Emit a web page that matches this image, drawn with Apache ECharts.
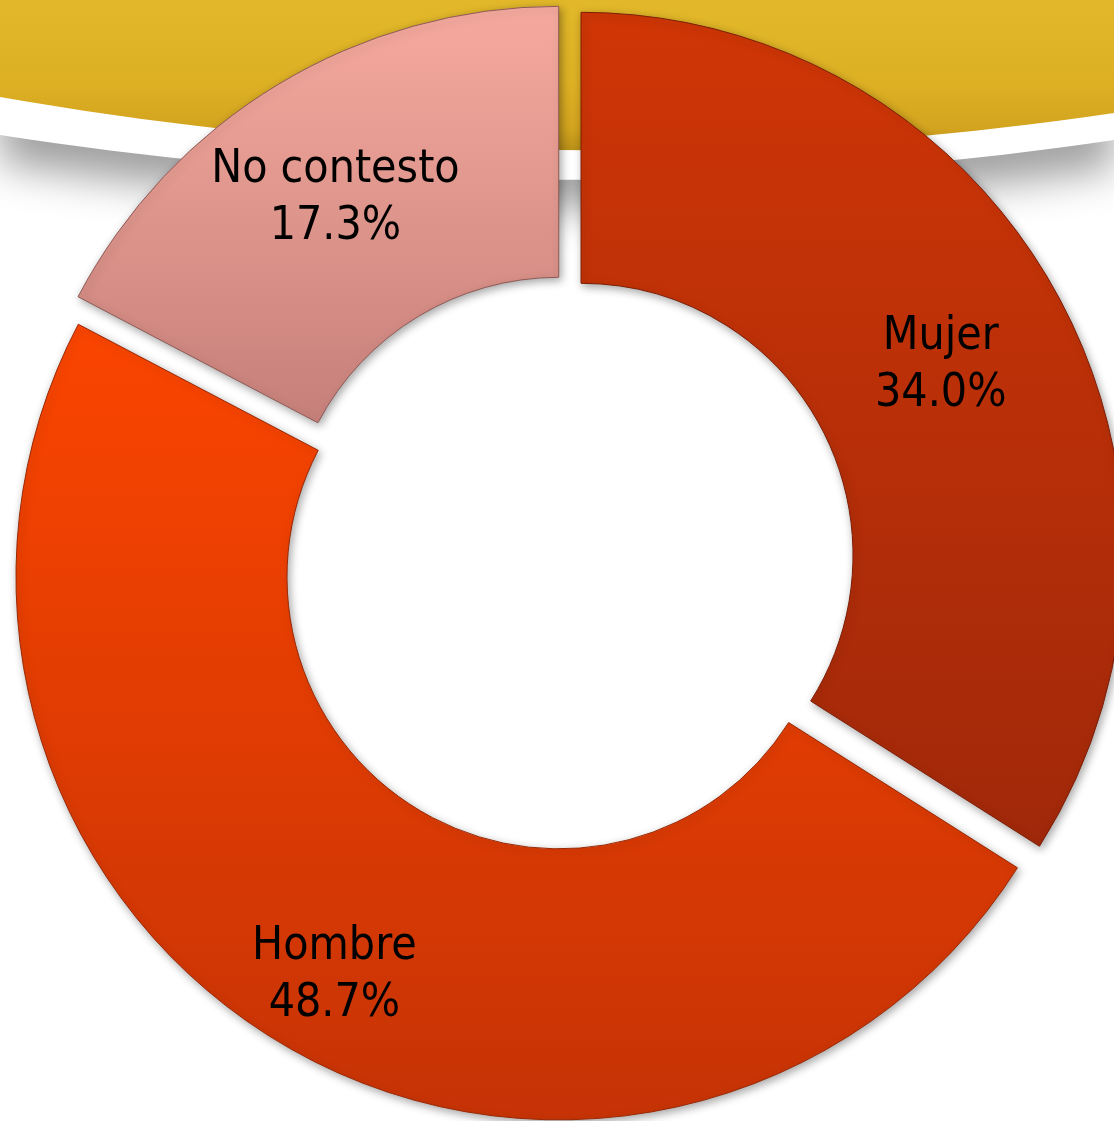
<!DOCTYPE html>
<html>
<head>
<meta charset="utf-8">
<script src="https://cdn.jsdelivr.net/npm/echarts@6/dist/echarts.min.js"></script>
<style>
    html, body { margin: 0; padding: 0; background: #fff; }
    #chart { width: 1114px; height: 1121px; }
</style>
</head>
<body>
<div id="chart"></div>
<script>
// datos de la encuesta: sexo
var categories = ["Mujer", "Hombre", "No contesto"];
var percents = [34.0, 48.7, 17.3];

// colores de cada sector (arriba, abajo, borde)
var sliceColors = [
    ["#d03606", "#a0280a", "#7c1e06"],
    ["#fb4500", "#c63306", "#9a2804"],
    ["#f6aa9e", "#c6807a", "#8e5a55"]
];
// ajuste fino de la posicion de las etiquetas
var labelShift = [[0, 8], [-19, 43], [-11, 1]];

var FONT = "'DejaVu Sans Condensed', 'Liberation Sans Narrow', 'DejaVu Sans', sans-serif";

function grad(stops) {
    var cs = [];
    for (var i = 0; i < stops.length; i++) {
        cs.push({offset: stops[i][0], color: stops[i][1]});
    }
    return {type: "linear", x: 0, y: 0, x2: 0, y2: 1, colorStops: cs};
}

// curva cuadratica de izquierda (y0) a derecha (y1) con control en (560, yc)
function curve(y0, yc, y1) {
    var pts = [];
    for (var k = 0; k <= 40; k++) {
        var t = k / 40;
        var x = 2 * t * (1 - t) * 560 + t * t * 1114;
        var y = (1 - t) * (1 - t) * y0 + 2 * t * (1 - t) * yc + t * t * y1;
        pts.push([x, y]);
    }
    return pts;
}

function buildData() {
    var list = [];
    for (var i = 0; i < categories.length; i++) {
        var c = sliceColors[i];
        var st = {color: grad([[0, c[0]], [1, c[1]]]), borderColor: c[2], borderWidth: 1};
        list.push({
            name: categories[i],
            value: percents[i],
            selected: true,
            itemStyle: st,
            select: {itemStyle: st}
        });
    }
    return list;
}

// banda dorada del fondo
var whiteBand = curve(60, 158, 76).concat(curve(135, 222, 140).reverse());
var goldBand = [[0, 0], [1114, 0]].concat(curve(97, 195, 113).reverse());

var ribbon = [
    {
        type: "polygon",
        z: -10,
        shape: {points: whiteBand},
        style: {
            fill: "#ffffff",
            shadowBlur: 40,
            shadowColor: "rgba(0,0,0,0.38)",
            shadowOffsetY: 28
        }
    },
    {
        type: "polygon",
        z: -9,
        shape: {points: goldBand},
        style: {
            fill: grad([[0, "#e2b82a"], [0.55, "#ddb024"], [0.85, "#d3a41f"], [1, "#b98f18"]])
        }
    }
];

var myChart = echarts.init(document.getElementById("chart"));
var option = {
    backgroundColor: "#ffffff",
    animation: false,
    graphic: ribbon,
    series: [{
        type: "pie",
        center: [567, 563],
        radius: [272, 543],
        startAngle: 90,
        clockwise: true,
        selectedMode: "multiple",
        selectedOffset: 16,
        silent: true,
        avoidLabelOverlap: false,
        itemStyle: {
            shadowBlur: 8,
            shadowColor: "rgba(0,0,0,0.35)",
            shadowOffsetX: 2,
            shadowOffsetY: 3
        },
        label: {
            show: true,
            position: "inside",
            color: "#000",
            fontFamily: FONT,
            fontSize: 46,
            lineHeight: 57,
            formatter: function (p) {
                return p.name + "\n" + p.value.toFixed(1) + "%";
            }
        },
        labelLine: {show: false},
        emphasis: {disabled: true},
        labelLayout: function (p) {
            var s = labelShift[p.dataIndex];
            return {dx: s[0], dy: s[1]};
        },
        data: buildData()
    }]
};
myChart.setOption(option);
</script>
</body>
</html>
